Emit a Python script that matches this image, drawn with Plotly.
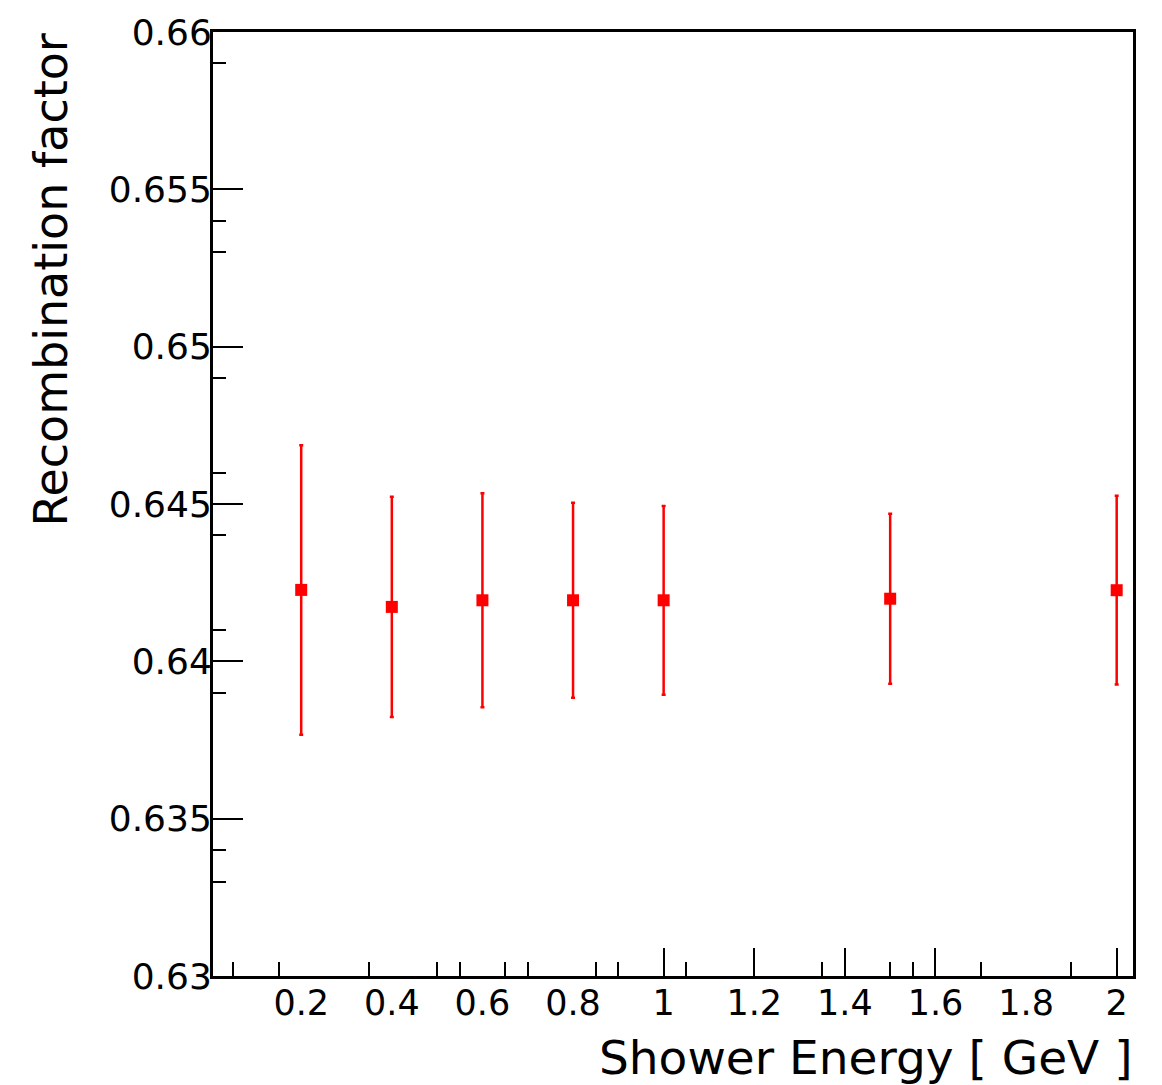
import plotly.graph_objects as go

# Data
energy = [0.2, 0.4, 0.6, 0.8, 1.0, 1.5, 2.0]
recomb = [0.64227, 0.64173, 0.64194, 0.64194, 0.64194, 0.64199, 0.64226]
recomb_err = [0.0046, 0.0035, 0.0034, 0.0031, 0.0030, 0.0027, 0.0030]

x_label_vals = [0.2, 0.4, 0.6, 0.8, 1.0, 1.2, 1.4, 1.6, 1.8, 2.0]
x_label_text = ["0.2", "0.4", "0.6", "0.8", "1", "1.2", "1.4", "1.6", "1.8", "2"]
x_major_ticks = [1.0, 1.2, 1.4, 1.6, 2.0]
x_minor_ticks = [0.05, 0.15, 0.35, 0.5, 0.55, 0.65, 0.7, 0.85, 0.9, 1.05, 1.35, 1.5, 1.55, 1.7, 1.9]

y_label_vals = [0.63, 0.635, 0.64, 0.645, 0.65, 0.655, 0.66]
y_label_text = ["0.63", "0.635", "0.64", "0.645", "0.65", "0.655", "0.66"]
y_minor_ticks = [0.633, 0.634, 0.639, 0.641, 0.644, 0.646, 0.649, 0.653, 0.654, 0.659]

FONT = "DejaVu Sans"
W, H = 1162, 1085
L, R, T, B = 213, 29, 28, 109
X_RANGE = [0.0053, 2.036]

fig = go.Figure()
# invisible copy on the overlay axis so that its (tall) ticks get drawn
fig.add_trace(go.Scatter(
    x=energy, y=recomb, mode="markers",
    marker=dict(size=1, opacity=0), hoverinfo="skip", showlegend=False,
    xaxis="x2", yaxis="y",
))
fig.add_trace(go.Scatter(
    x=energy, y=recomb,
    mode="markers",
    marker=dict(symbol="square", size=12, color="#ff0000"),
    error_y=dict(type="data", array=recomb_err, visible=True,
                 color="#ff0000", thickness=2.5, width=2),
    showlegend=False,
    xaxis="x", yaxis="y",
))

fig.update_layout(
    width=W, height=H,
    margin=dict(l=L, r=R, t=T, b=B, pad=0),
    paper_bgcolor="white", plot_bgcolor="white",
    font=dict(family=FONT, size=36, color="black"),
    xaxis=dict(
        range=X_RANGE,
        tickmode="array", tickvals=x_label_vals, ticktext=x_label_text,
        ticks="", showgrid=False, zeroline=False,
        showline=True, linecolor="black", linewidth=2.5, mirror=True,
        ticklabelstandoff=-6,
        tickfont=dict(family=FONT, size=35),
        minor=dict(tickmode="array", tickvals=x_minor_ticks, ticks="inside",
                   ticklen=14, tickwidth=2, tickcolor="black", showgrid=False),
    ),
    xaxis2=dict(
        overlaying="x", anchor="y", side="bottom", range=X_RANGE,
        tickmode="array", tickvals=x_major_ticks,
        ticks="inside", ticklen=28, tickwidth=2, tickcolor="black",
        showticklabels=False, showgrid=False, zeroline=False, showline=False,
    ),
    yaxis=dict(
        range=[0.63, 0.66],
        tickmode="array", tickvals=y_label_vals, ticktext=y_label_text,
        ticks="inside", ticklen=30, tickwidth=2, tickcolor="black",
        showgrid=False, zeroline=False,
        showline=True, linecolor="black", linewidth=3, mirror=True,
        ticklabelstandoff=-9,
        tickfont=dict(family=FONT, size=36),
        minor=dict(tickmode="array", tickvals=y_minor_ticks, ticks="inside",
                   ticklen=13, tickwidth=2, tickcolor="black", showgrid=False),
    ),
    annotations=[
        dict(text="Recombination factor", xref="paper", yref="paper",
             x=(50 - L) / (W - L - R), y=1.0, xanchor="center", yanchor="top",
             textangle=-90, showarrow=False,
             font=dict(family=FONT, size=46, color="black")),
        dict(text="Shower Energy [ GeV ]", xref="paper", yref="paper",
             x=1.0 + 2 / (W - L - R), y=(H - B - 1058) / (H - T - B),
             xanchor="right", yanchor="middle", showarrow=False,
             font=dict(family=FONT, size=47, color="black")),
    ],
)

fig.write_html("out.html")
